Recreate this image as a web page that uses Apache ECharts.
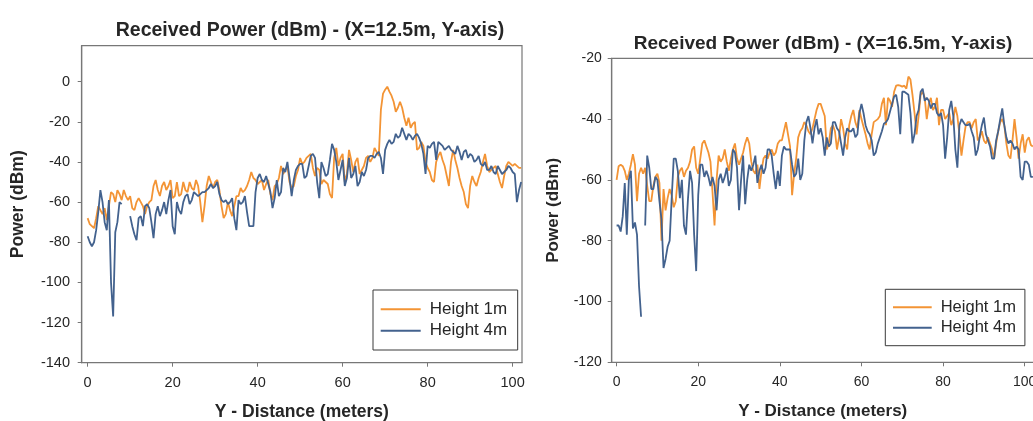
<!DOCTYPE html>
<html>
<head>
<meta charset="utf-8">
<script src="https://cdn.jsdelivr.net/npm/echarts@6/dist/echarts.min.js"></script>
<style>
html,body{margin:0;padding:0;background:#fff;}
#chart{width:1033px;height:421px;}
</style>
</head>
<body>
<div id="chart"></div>
<script>
// Distance along Y (meters), 0.5 m spacing
const dist = [
  0,0.5,1,1.5,2,2.5,3,3.5,4,4.5,5,5.5,6,6.5,7,7.5,8,8.5,9,9.5,
  10,10.5,11,11.5,12,12.5,13,13.5,14,14.5,15,15.5,16,16.5,17,17.5,18,18.5,19,19.5,
  20,20.5,21,21.5,22,22.5,23,23.5,24,24.5,25,25.5,26,26.5,27,27.5,28,28.5,29,29.5,
  30,30.5,31,31.5,32,32.5,33,33.5,34,34.5,35,35.5,36,36.5,37,37.5,38,38.5,39,39.5,
  40,40.5,41,41.5,42,42.5,43,43.5,44,44.5,45,45.5,46,46.5,47,47.5,48,48.5,49,49.5,
  50,50.5,51,51.5,52,52.5,53,53.5,54,54.5,55,55.5,56,56.5,57,57.5,58,58.5,59,59.5,
  60,60.5,61,61.5,62,62.5,63,63.5,64,64.5,65,65.5,66,66.5,67,67.5,68,68.5,69,69.5,
  70,70.5,71,71.5,72,72.5,73,73.5,74,74.5,75,75.5,76,76.5,77,77.5,78,78.5,79,79.5,
  80,80.5,81,81.5,82,82.5,83,83.5,84,84.5,85,85.5,86,86.5,87,87.5,88,88.5,89,89.5,
  90,90.5,91,91.5,92,92.5,93,93.5,94,94.5,95,95.5,96,96.5,97,97.5,98,98.5,99,99.5,
  100,100.5,101,101.5,102];

// Left panel: X = 12.5 m, received power (dBm)
const left_h1 = [
  -68,-71,-72,-73,-68,-62,-64,-66,-63,-69,-62,-55,-56,-60,-54,-56,-59,-54,-57,-59,
  -57,-63,-64,-60,-58,-60,-62,-66,-62,-60,-59,-52,-49,-54,-57,-52,-50,-54,-52,-49,
  -58,-57,-50,-57,-56,-50,-54,-55,-50,-53,-54,-49,-52,-60,-70,-62,-52,-47,-50,-53,
  -50,-49,-54,-62,-68,-66,-60,-64,-67,-62,-57,-57,-53,-55,-54,-52,-49,-45,-48,-49,
  -51,-50,-49,-54,-51,-49,-56,-59,-52,-51,-48,-42,-46,-44,-42,-50,-53,-52,-47,-44,
  -38,-41,-40,-38,-37,-36,-43,-47,-43,-44,-51,-49,-50,-51,-56,-58,-38,-33,-42,-38,
  -36,-50,-46,-34,-39,-45,-40,-38,-46,-44,-42,-38,-37,-40,-38,-33,-35,-37,-14,-6,
  -4,-2.5,-5,-7,-10,-15,-13,-10,-13,-18,-22,-18,-23,-21,-20,-34,-33,-30,-32,-40,
  -43,-45,-49,-50,-40,-37,-35,-39,-42,-47,-52,-40,-34,-39,-43,-48,-52,-55,-61,-63,
  -52,-47,-50,-52,-48,-45,-40,-36,-42,-45,-44,-43,-42,-46,-50,-53,-47,-42,-40,-41,
  -42,-41,-42,-43,-43];
const left_h4 = [
  -77,-80,-82,-80,-74,-65,-54,-60,-70,-74,-59,-100,-117,-75,-70,-60,-61,null,null,null,
  -67,-72,-76,-79,-68,-67,-72,-62,-61,-63,-70,-78,-66,-62,-67,-64,-60,-66,-59,-54,
  -72,-76,-60,-64,-66,-60,-57,-56,-61,-59,-55,-56,-57,-56,-55,-55,-54,-53,-51,-53,
  -52,-50,-56,-59,-60,-59,-61,-60,-58,-68,-74,-59,-61,-60,-57,-65,-72,-72,-72,-55,
  -48,-46,-49,-50,-47,-51,-55,-63,-58,-49,-57,-55,-43,-45,-40,-48,-57,-49,-44,-42,
  -41,-41,-48,-47,-42,-37,-36,-38,-50,-58,-40,-43,-47,-46,-39,-31,-34,-40,-49,-44,
  -39,-52,-48,-38,-48,-46,-42,-52,-50,-45,-47,-44,-38,-37,-37,-38,-36,-35,-38,-46,
  -34,-31,-29,-31,-30,-26,-28,-27,-23,-26,-29,-26,-27,-29,-27,-26,-28,-31,-36,-46,
  -32,-33,-31,-30,-39,-30,-31,-32,-34,-33,-32,-34,-35,-36,-32,-35,-39,-35,-34,-38,
  -36,-37,-40,-39,-37,-41,-42,-40,-44,-44,-42,-45,-46,-42,-44,-46,-45,-44,-42,-43,
  -45,-46,-60,-54,-50];

// Right panel: X = 16.5 m, received power (dBm)
const right_h1 = [
  -60,-55.5,-55,-55.5,-57,-60,-58,-55,-51.5,-55,-67,-58,-56,-58,-56,-62,-67,-67,-62,-59,
  -58,-61,-80,-63,-70,-66,-63,-65,-69,-67,-59,-57,-56,-59,-57,-56,-54,-50,-49,-56,
  -58,-53,-48,-47,-49,-51,-54,-64,-75,-60,-52,-54,-53,-50,-54,-57,-53,-50,-48,-53,
  -55,-53,-51,-48,-46,-48,-54,-57,-58,-55,-63,-57,-53,-52,-53,-51,-50,-52,-51,-48,
  -47,-47,-44,-41,-45,-49,-65,-58,-53,-46,-44,-43,-41,-42,-44,-45,-43,-40,-37,-35,
  -35,-37,-39,-50,-48,-43,-42,-44,-50,-46,-40,-43,-48,-50,-42,-39,-37,-41,-43,-37,
  -40,-42.5,-45,-48,-50,-45,-41,-40.5,-40,-39,-35,-33,-42,-33,-34,-36,-31,-29,-28.8,-29,
  -29.3,-29,-30,-26,-27,-32,-38,-45,-39,-32,-31,-33,-40,-35,-33,-37,-36,-33,-42,-37,
  -37,-40,-39,-38,-42,-40,-36,-39,-45,-52,-47,-42.5,-41,-41,-43,-41,-40,-47,-46,-44,
  -47,-48,-46,-48,-50,-53,-48,-44,-41,-40,-42,-48,-52,-53,-47,-40,-46,-53,-48,-45,
  -51,-47,-46,-48.5,-49];
const right_h4 = [
  -75,-75,-77,-72,-61,-78,-60,-57,-76,-74,-78,-95,-105,null,-75,-52,-56,-63,-63,-59,
  -60,-67,-73,-89,-86,-82,-80,-66,-53,-53,-57,-66,-60,-75,-78,-66,-57,-61,-78,-90,
  -65,-55,-55,-59,-57,-59,-62,-59,-62,-70,-60,-58,-61,-59,-56,-62,-60,-50,-51,-56,
  -70,-60,-52,-68,-60,-55,-57,-55,-52,-61,-57,-55,-58,-56,-50,-50,-52,-58,-63,-57,
  -62,-52,-49,-50,-50,-50,-55,-59,-58,-53,-60,-58,-47,-41,-39,-43,-48,-43,-40,-45,
  -43,-46,-52,-46,-49,-48,-41,-41,-43,-44,-48,-52,-46,-43,-44,-44,-43,-46,-45,-38,
  -35,-38,-42,-44,-45,-47,-52,-51,-48,-46,-44,-41.5,-41,-40,-37.5,-35,-32.6,-32,-36,-45,
  -31,-31,-31.5,-32,-38,-48,-45,-39,-37,-31,-30,-34,-33,-34,-36.5,-35,-35,-38,-39,-38,
  -42,-53,-46,-37,-34,-39,-50,-56,-42,-40,-41,-42,-42,-41.5,-44,-46,-52,-50,-45.5,-42,
  -39.5,-45,-47,-49,-53,-53,-47,-44,-40,-36.5,-42,-46,-48,-47,-48,-50,-49,-50,-59,-60,
  -54,-54,-55,-59,-59];

const seriesNames = ['Height 1m', 'Height 4m'];
const xTicks = [0, 20, 40, 60, 80, 100];
const yTicksLeft = [-140, -120, -100, -80, -60, -40, -20, 0];
const yTicksRight = [-120, -100, -80, -60, -40, -20];
const titles = ['Received Power (dBm) - (X=12.5m, Y-axis)', 'Received Power (dBm) - (X=16.5m, Y-axis)'];
const xName = 'Y - Distance (meters)';
const yName = 'Power (dBm)';

const ORANGE = '#F39435';
const BLUE = '#43628E';
const FRAME = '#777777';
const TXT = '#262626';
const FONT = '"Liberation Sans", Arial, sans-serif';

function pairs(arr) { return dist.map((d, i) => [d, arr[i] === null ? '-' : arr[i]]); }

function xAxis(gridIndex, min, fs, nfs, lm, ng) {
  return {
    type: 'value', gridIndex, min, max: 102.2,
    axisLine: { show: true, onZero: false, lineStyle: { color: FRAME, width: 1.2 } },
    axisTick: { show: true, length: 4, customValues: xTicks, lineStyle: { color: FRAME } },
    axisLabel: { customValues: xTicks, color: TXT, fontSize: fs, fontFamily: FONT, margin: lm },
    splitLine: { show: false },
    name: xName, nameLocation: 'middle', nameGap: ng,
    nameTextStyle: { fontSize: nfs, fontWeight: 'bold', color: TXT, fontFamily: FONT }
  };
}
function yAxis(gridIndex, min, max, ticks, fs, nfs, lm, ng) {
  return {
    type: 'value', gridIndex, min, max,
    axisLine: { show: true, onZero: false, lineStyle: { color: FRAME, width: 1.2 } },
    axisTick: { show: true, length: 4, customValues: ticks, lineStyle: { color: FRAME } },
    axisLabel: { customValues: ticks, color: TXT, fontSize: fs, fontFamily: FONT, margin: lm },
    splitLine: { show: false },
    name: yName, nameLocation: 'middle', nameGap: ng, nameRotate: 90,
    nameTextStyle: { fontSize: nfs, fontWeight: 'bold', color: TXT, fontFamily: FONT }
  };
}
function legend(left, top, iw, fs, lh, pad) {
  return {
    data: seriesNames, orient: 'vertical', left, top,
    icon: 'rect', itemWidth: iw, itemHeight: 2, itemGap: 1.4,
    padding: pad,
    borderColor: '#3a3a3a', borderWidth: 1,
    textStyle: { fontSize: fs, color: TXT, fontFamily: FONT, lineHeight: lh, padding: [0, 0, 0, 4] }
  };
}
function line(name, color, xi, data) {
  return {
    type: 'line', name, xAxisIndex: xi, yAxisIndex: xi, data,
    showSymbol: false, symbol: 'none', connectNulls: false, animation: false,
    lineStyle: { color, width: 1.8 }, itemStyle: { color }, clip: true
  };
}

const chart = echarts.init(document.getElementById('chart'), null, { renderer: 'canvas' });
chart.setOption({
  backgroundColor: '#fff',
  animation: false,
  title: [
    { text: titles[0], left: 305, top: 15.5, textAlign: 'center',
      textStyle: { fontSize: 19.5, fontWeight: 'bold', color: TXT, fontFamily: FONT } },
    { text: titles[1], left: 818, top: 28.8, textAlign: 'center',
      textStyle: { fontSize: 19, fontWeight: 'bold', color: TXT, fontFamily: FONT } }
  ],
  legend: [
    legend(373, 290, 40, 17, 20, [9.3, 10.5, 9.3, 7.7]),
    legend(885.3, 289.3, 38.7, 16.5, 19, [8.5, 9, 8.5, 7.7])
  ],
  grid: [
    { left: 81.7, top: 45.7, width: 440.3, height: 317, show: true, borderColor: FRAME, borderWidth: 1.2,
      backgroundColor: 'transparent', outerBoundsMode: 'none', containLabel: false },
    { left: 611.7, top: 58.3, width: 422, height: 304, show: true, borderColor: FRAME, borderWidth: 1.2,
      backgroundColor: 'transparent', outerBoundsMode: 'none', containLabel: false }
  ],
  xAxis: [xAxis(0, -1.4, 14.5, 17.5, 13, 40.5), xAxis(1, -1.2, 14, 17, 12.4, 41)],
  yAxis: [yAxis(0, -140, 17.9, yTicksLeft, 14.5, 17.5, 11.7, 54.3), yAxis(1, -120, -20, yTicksRight, 14, 17, 10, 50.2)],
  series: [
    line(seriesNames[0], ORANGE, 0, pairs(left_h1)),
    line(seriesNames[1], BLUE, 0, pairs(left_h4)),
    line(seriesNames[0], ORANGE, 1, pairs(right_h1)),
    line(seriesNames[1], BLUE, 1, pairs(right_h4))
  ]
});
</script>
</body>
</html>
